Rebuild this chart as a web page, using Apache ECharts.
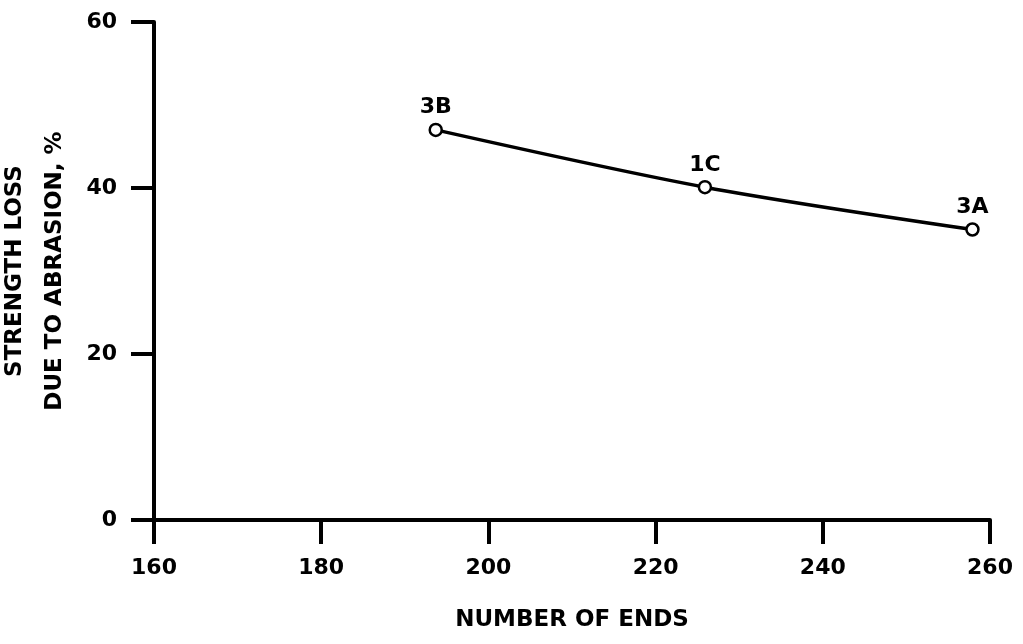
<!DOCTYPE html>
<html><head><meta charset="utf-8">
<script src="https://cdn.jsdelivr.net/npm/echarts@6/dist/echarts.min.js"></script>
<style>html,body{margin:0;padding:0;background:#fff}#c{width:1023px;height:644px}</style>
</head><body><div id="c"></div>
<script>
const sampleLabels = ['3B', '1C', '3A'];
const numberOfEnds = [193.7, 225.9, 257.9];
const strengthLoss = [47.0, 40.1, 35.0];
const xTicks = [160, 180, 200, 220, 240, 260];
const yTicks = [0, 20, 40, 60];

const font = 'DejaVu Sans';
const chart = echarts.init(document.getElementById('c'));
chart.setOption({
  backgroundColor: '#fff',
  animation: false,
  grid: {left: 154, right: 33, top: 22, bottom: 124, containLabel: false, outerBoundsMode: 'none'},
  xAxis: {
    type: 'value', min: xTicks[0], max: xTicks[xTicks.length-1], interval: 20,
    name: 'NUMBER OF ENDS', nameLocation: 'middle', nameGap: 89,
    nameTextStyle: {fontFamily: font, fontSize: 23, fontWeight: 'bold', color: '#000'},
    axisLine: {lineStyle: {color: '#000', width: 4}},
    axisTick: {length: 24, lineStyle: {color: '#000', width: 4}},
    axisLabel: {fontFamily: font, fontSize: 22, fontWeight: 'bold', color: '#000', margin: 37},
    splitLine: {show: false}
  },
  yAxis: {
    type: 'value', min: yTicks[0], max: yTicks[yTicks.length-1], interval: 20,
    name: 'STRENGTH LOSS\nDUE TO ABRASION, %', nameLocation: 'middle', nameGap: 76, nameRotate: 90,
    nameTextStyle: {fontFamily: font, fontSize: 23, fontWeight: 'bold', color: '#000', lineHeight: 40},
    axisLine: {show: true, lineStyle: {color: '#000', width: 4}},
    axisTick: {show: true, length: 23, lineStyle: {color: '#000', width: 4}},
    axisLabel: {fontFamily: font, fontSize: 22, fontWeight: 'bold', color: '#000', margin: 37},
    splitLine: {show: false}
  },
  series: [{
    type: 'line', smooth: 0.3,
    data: numberOfEnds.map((x, i) => ({value: [x, strengthLoss[i]], name: sampleLabels[i]})),
    symbol: 'circle', symbolSize: 12,
    itemStyle: {color: '#fff', borderColor: '#000', borderWidth: 2.5},
    lineStyle: {color: '#000', width: 3.5},
    label: {show: true, position: 'top', distance: 4, formatter: p => p.name,
      fontFamily: font, fontSize: 22, fontWeight: 'bold', color: '#000'}
  }]
});
</script></body></html>
